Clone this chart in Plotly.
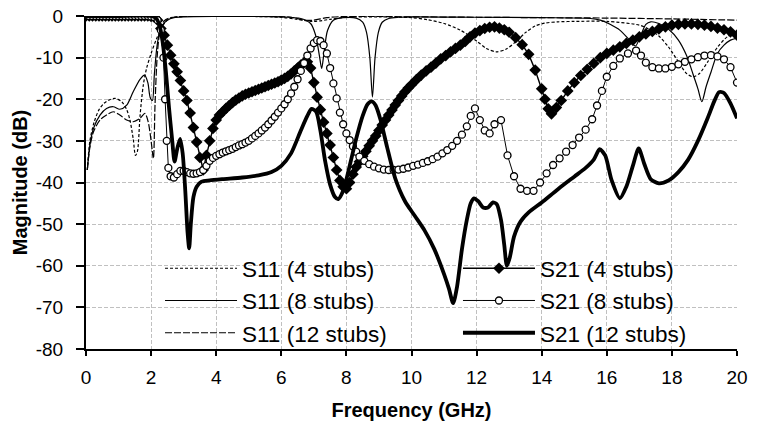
import plotly.graph_objects as go

# ---------------- data ----------------
s11_4_x = [0.04, 0.12, 0.25, 0.4, 0.55, 0.7, 0.9, 1.1, 1.25, 1.35, 1.45, 1.52, 1.58, 1.66, 1.76, 1.86, 2.0, 2.15, 2.3, 2.45, 2.6, 2.8, 3.5, 5, 6, 6.5, 7.0, 7.5, 8, 9, 10, 10.5, 11, 11.5, 12, 12.3, 12.6, 12.9, 13.2, 13.5, 13.8, 14.1, 14.5, 15, 16, 17, 17.3, 17.6, 17.9, 18.2, 18.45, 18.65, 18.85, 19.1, 19.4, 19.7, 20.0]
s11_4_y = [-37, -30, -25.5, -22.5, -21, -20.2, -19.8, -20.6, -22.5, -25, -29.5, -33.5, -32.5, -24, -16.6, -12.6, -9, -5.8, -3.2, -1.3, -0.5, -0.2, -0.1, -0.1, -0.3, -0.8, -1.3, -0.8, -0.3, -0.2, -0.4, -0.9, -1.8, -3.4, -6.0, -7.8, -8.6, -8.0, -6.2, -4.0, -2.4, -1.7, -1.4, -1.3, -1.3, -2.2, -3.2, -4.8, -7.5, -11, -13.8, -14.6, -13.8, -11, -7.5, -5, -3.8]

s11_8_x = [0.04, 0.12, 0.23, 0.43, 0.63, 0.84, 1.04, 1.25, 1.45, 1.66, 1.8, 1.9, 1.97, 2.04, 2.1, 2.17, 2.25, 2.35, 2.5, 2.7, 3, 4, 5, 6, 6.6, 6.9, 7.05, 7.17, 7.24, 7.31, 7.42, 7.6, 7.9, 8.3, 8.5, 8.62, 8.72, 8.8, 8.88, 8.98, 9.1, 9.3, 9.6, 10, 12, 14, 15.5, 15.8, 16.1, 16.4, 16.7, 16.88, 17.05, 17.2, 17.35, 17.6, 17.9, 18.2, 18.45, 18.65, 18.8, 18.92, 19.05, 19.2, 19.4, 19.6, 19.8, 20]
s11_8_y = [-37, -31, -27, -23.8, -22.2, -21.8, -22.4, -21.4, -18.2, -15.2, -14.2, -16, -19.5, -20.3, -14, -8, -4.2, -2.2, -1, -0.4, -0.2, -0.1, -0.1, -0.2, -0.6, -1.8, -4.5, -9.5, -12.6, -9, -3.5, -1, -0.4, -0.5, -1.5, -4, -10, -19.5, -10, -4, -1.5, -0.6, -0.3, -0.2, -0.3, -0.4, -0.6, -1.0, -2.0, -3.4, -5.8, -7.2, -4.5, -2.0, -1.4, -1.8, -3.2, -5.8, -9.5, -14.0, -17.5, -20.6, -17, -13.5, -9.0, -7.0, -5.8, -5.3]

s11_12_x = [0.04, 0.12, 0.23, 0.43, 0.63, 0.84, 1.04, 1.25, 1.45, 1.66, 1.81, 1.91, 2.0, 2.07, 2.12, 2.19, 2.27, 2.4, 2.6, 3, 5, 6.3, 6.7, 7.0, 7.4, 8, 10, 12, 14, 16, 18, 20]
s11_12_y = [-37, -31.5, -27.8, -25, -23.8, -23, -23.8, -25, -25.4, -24.6, -23.4, -25.4, -30, -34.2, -21.4, -9.4, -3.8, -1.2, -0.4, -0.1, -0.1, -0.3, -1, -1, -0.4, -0.1, -0.2, -0.3, -0.4, -0.5, -0.7, -1]

s21_4_x = [0.0, 0.1, 0.2, 0.3, 0.4, 0.5, 0.6, 0.7, 0.8, 0.9, 1.0, 1.1, 1.2, 1.3, 1.4, 1.5, 1.6, 1.7, 1.8, 1.9, 2.0, 2.1,
           2.2, 2.3, 2.4, 2.5, 2.6, 2.7, 2.8, 2.9, 3.0, 3.1, 3.2, 3.3, 3.4, 3.5, 3.6, 3.7, 3.8, 3.9,
           4.0, 4.1, 4.2, 4.3, 4.4, 4.5, 4.6, 4.7, 4.8, 4.9, 5.0, 5.1, 5.2, 5.3, 5.4, 5.5, 5.6, 5.7, 5.8, 5.9,
           6.0, 6.1, 6.2, 6.3, 6.4, 6.5, 6.6, 6.7, 6.8, 6.9, 7.0, 7.1, 7.2, 7.3, 7.4, 7.5, 7.6, 7.7, 7.8, 7.9,
           8.0, 8.1, 8.2, 8.3, 8.4, 8.5, 8.6, 8.7, 8.8, 8.9, 9.0, 9.1, 9.2, 9.3, 9.4, 9.5, 9.6, 9.7, 9.8, 9.9,
           10.0, 10.15, 10.3, 10.45, 10.6, 10.75, 10.9, 11.05, 11.2, 11.35, 11.5, 11.65, 11.8, 11.95, 12.1, 12.25, 12.4, 12.55, 12.7, 12.85,
           13.0, 13.2, 13.4, 13.6, 13.8, 14.0, 14.1, 14.2, 14.3, 14.45, 14.6, 14.8, 15.0, 15.2, 15.4, 15.6, 15.8,
           16.0, 16.2, 16.4, 16.6, 16.8, 17.0, 17.2, 17.4, 17.6, 17.8, 18.0, 18.2, 18.4, 18.6, 18.8, 19.0, 19.2, 19.4, 19.6, 19.8, 20.0]
s21_4_y = [0, 0, 0, 0, 0, 0, 0, 0, 0, 0, 0, 0, 0, 0, 0, 0, 0, 0, 0, 0, -0.1, -0.3,
           -1.0, -3.0, -4.6, -7.0, -9.4, -11.5, -13.4, -15.5, -18.0, -20.3, -23.3, -26.8, -30.3, -34.0, -37.0, -33.5, -30.0, -27.0,
           -25.0, -23.8, -23.0, -22.2, -21.5, -20.8, -20.2, -19.7, -19.2, -18.8, -18.5, -18.2, -17.9, -17.6, -17.3, -17.0, -16.7, -16.4, -16.1, -15.8,
           -15.4, -15.0, -14.5, -13.9, -13.2, -12.5, -11.8, -11.2, -11.0, -12.5, -16.0, -19.5, -22.5, -25.5, -28.2, -31.0, -34.0, -37.0, -39.5, -41.0,
           -41.5, -40.0, -38.0, -36.3, -35.0, -33.7, -32.5, -31.2, -30.0, -28.8, -27.5, -26.2, -25.0, -23.8, -22.6, -21.4, -20.3, -19.2, -18.2, -17.3,
           -16.5, -15.3, -14.2, -13.2, -12.3, -11.3, -10.3, -9.5, -8.6, -7.8, -7.0, -6.1, -5.0, -4.1, -3.5, -3.0, -2.7, -2.6, -2.9, -3.3,
           -3.9, -5.2, -6.9, -9.2, -13.0, -17.5, -20.0, -22.3, -23.5, -22.0, -20.3, -18.0, -16.0, -14.3, -12.8, -11.4, -10.0,
           -9.0, -8.2, -7.4, -6.6, -5.8, -5.0, -4.3, -3.7, -3.1, -2.6, -2.2, -2.0, -1.9, -1.9, -2.0, -2.2, -2.5, -2.9, -3.3, -3.8, -4.6]

s21_8_x = [0.0, 0.1, 0.2, 0.3, 0.4, 0.5, 0.6, 0.7, 0.8, 0.9, 1.0, 1.1, 1.2, 1.3, 1.4, 1.5, 1.6, 1.7, 1.8, 1.9, 2.0, 2.1,
           2.2, 2.3, 2.38, 2.43, 2.48, 2.53, 2.6, 2.7, 2.8, 2.9, 3.0, 3.1, 3.2, 3.3, 3.4, 3.5, 3.6, 3.7, 3.8, 3.9,
           4.0, 4.1, 4.2, 4.3, 4.4, 4.5, 4.6, 4.7, 4.8, 4.9, 5.0, 5.1, 5.2, 5.3, 5.4, 5.5, 5.6, 5.7, 5.8, 5.9,
           6.0, 6.1, 6.2, 6.3, 6.4, 6.5, 6.6, 6.7, 6.8, 6.9, 7.0, 7.1, 7.2, 7.3, 7.4, 7.5, 7.6, 7.7, 7.8, 7.9,
           8.0, 8.1, 8.2, 8.3, 8.4, 8.55, 8.7, 8.85, 9.0, 9.15, 9.3, 9.45, 9.6, 9.75, 9.9, 10.05, 10.2, 10.35, 10.5, 10.65, 10.8, 10.95, 11.1, 11.25, 11.4, 11.55, 11.7, 11.82, 11.95,
           12.1, 12.25, 12.4, 12.55, 12.75, 12.95, 13.15, 13.35, 13.55, 13.75, 13.95, 14.15, 14.35, 14.55, 14.75, 14.95, 15.15, 15.35, 15.55, 15.7, 15.85,
           16.0, 16.2, 16.4, 16.65, 16.9, 17.05, 17.2, 17.4, 17.6, 17.8, 18.0, 18.2, 18.4, 18.6, 18.8, 19.0, 19.2, 19.4, 19.6, 19.8, 20.0]
s21_8_y = [0, 0, 0, 0, 0, 0, 0, 0, 0, 0, 0, 0, 0, 0, 0, 0, 0, 0, 0, 0, -0.1, -0.3,
           -1.0, -3.4, -10.0, -20.0, -30.0, -36.5, -38.5, -38.8, -38.0, -37.2, -37.2, -37.5, -37.8, -37.9, -37.8, -37.5, -37.0, -36.0, -34.8, -34.1,
           -33.6, -33.2, -32.8, -32.5, -32.2, -31.9, -31.5, -31.1, -30.8, -30.4, -30.0, -29.4, -28.8, -28.2, -27.5, -26.8, -26.0, -25.1, -24.2, -23.2,
           -22.2, -21.2, -20.0, -18.6, -17.0, -15.2, -13.2, -11.3, -9.5, -7.8, -6.5, -5.8, -6.0, -7.0, -9.0, -12.5, -16.2, -19.8, -23.2, -26.0,
           -28.2, -29.8, -31.3, -32.6, -33.8, -34.8, -35.6, -36.2, -36.6, -36.9, -37.0, -37.0, -36.9, -36.7, -36.4, -36.0, -35.7, -35.3, -34.9, -34.4, -33.8, -33.0, -32.2, -31.2, -30.0, -28.5, -26.5, -24.0, -22.2,
           -25.0, -27.5, -28.2, -26.0, -25.0, -33.5, -38.5, -41.5, -42.0, -42.0, -40.0, -37.8, -35.8, -34.2, -32.6, -31.0, -29.2, -27.3, -24.8, -21.5, -18.0,
           -14.6, -12.0, -10.2, -9.0, -8.3, -9.5, -11.2, -12.3, -12.6, -12.6, -12.2, -11.6, -11.0, -10.4, -9.9, -9.5, -9.4, -9.7, -10.4, -12.3, -16.0]

s21_12_x = [0, 1, 2.0, 2.15, 2.25, 2.35, 2.45, 2.55, 2.65, 2.72, 2.8, 2.89, 2.97, 3.05, 3.12, 3.17, 3.22, 3.3, 3.4, 3.55, 3.8, 4.2, 4.8, 5.3, 5.7, 6.0, 6.3, 6.6, 6.8, 6.93, 7.07, 7.2, 7.35, 7.5, 7.65, 7.75, 7.9, 8.1, 8.3, 8.5, 8.65, 8.78, 8.9, 9.05, 9.25, 9.5, 9.8, 10.1, 10.4, 10.7, 11.0, 11.15, 11.28, 11.4, 11.55, 11.7, 11.82, 11.92, 12.05, 12.2, 12.35, 12.5, 12.62, 12.75, 12.85, 12.93, 13.02, 13.15, 13.35, 13.6, 14.0, 14.5, 15.0, 15.35, 15.6, 15.78, 15.95, 16.15, 16.4, 16.6, 16.8, 16.98, 17.15, 17.35, 17.6, 17.9, 18.2, 18.5, 18.8, 19.1, 19.3, 19.45, 19.6, 19.8, 20.0]
s21_12_y = [0, 0, 0, -0.5, -2, -6, -13, -22, -30, -35, -32, -29.5, -33, -42, -52, -55.8, -50, -43.5, -41, -39.8, -39.5, -39.2, -38.8, -38.3, -37.5, -36, -33, -27.5, -24, -22.3, -23, -27.5, -35, -40.5, -43.5, -44, -42, -36, -29.5, -24, -21.2, -20.5, -21.5, -25, -31.5, -39, -44.5, -48, -51.5, -56, -62, -65.5, -69, -65, -56, -49, -45, -43.8, -44.5, -46, -46, -44.8, -45.2, -49, -55, -60, -58, -53, -49.4, -47.2, -44.8, -41.6, -38.6, -36.5, -34.5, -32, -33.5, -39.5, -43.8, -41, -36, -31.8, -35.5, -39.2, -40.2, -39.5, -37.5, -34.5, -30, -24.5, -20.5, -18.3, -18.5, -21, -24.6]

x_ticks = [0, 2, 4, 6, 8, 10, 12, 14, 16, 18, 20]
y_ticks = [0, -10, -20, -30, -40, -50, -60, -70, -80]

FONT = "Liberation Sans, Arial, sans-serif"

fig = go.Figure()

fig.add_trace(go.Scatter(x=s11_4_x, y=s11_4_y, mode="lines", name="S11 (4 stubs)",
                         line=dict(color="black", width=1.2, dash="3px,2px", shape="spline", smoothing=0.8),
                         legend="legend"))
fig.add_trace(go.Scatter(x=s11_8_x, y=s11_8_y, mode="lines", name="S11 (8 stubs)",
                         line=dict(color="black", width=1.2, shape="spline", smoothing=0.8),
                         legend="legend"))
fig.add_trace(go.Scatter(x=s11_12_x, y=s11_12_y, mode="lines", name="S11 (12 stubs)",
                         line=dict(color="black", width=1.2, dash="7px,2px", shape="spline", smoothing=0.8),
                         legend="legend"))
fig.add_trace(go.Scatter(x=s21_4_x, y=s21_4_y, mode="lines+markers", name="S21 (4 stubs)",
                         line=dict(color="black", width=1.4),
                         marker=dict(symbol="diamond", size=9, color="black"),
                         legend="legend2"))
fig.add_trace(go.Scatter(x=s21_8_x, y=s21_8_y, mode="lines+markers", name="S21 (8 stubs)",
                         line=dict(color="black", width=1),
                         marker=dict(symbol="circle", size=7, color="white", line=dict(color="black", width=1.3)),
                         legend="legend2"))
fig.add_trace(go.Scatter(x=s21_12_x, y=s21_12_y, mode="lines", name="S21 (12 stubs)",
                         line=dict(color="black", width=3.8, shape="spline", smoothing=0.7),
                         legend="legend2"))

axis_common = dict(
    showline=True, linecolor="black", linewidth=2,
    showgrid=True, gridcolor="#c0c0c0", gridwidth=1, griddash="4px,2px",
    ticks="outside", tickcolor="black", tickwidth=2,
    zeroline=False, automargin=False,
    tickfont=dict(family=FONT, size=19, color="black"),
)

fig.update_layout(
    width=765, height=429,
    margin=dict(l=86, r=28, t=16, b=80),
    paper_bgcolor="white", plot_bgcolor="white",
    font=dict(family=FONT, color="black"),
    xaxis=dict(range=[0, 20], tickvals=x_ticks, ticktext=[str(v) for v in x_ticks],
               ticklen=5, ticklabelstandoff=5,
               title=dict(text="<b>Frequency (GHz)</b>", font=dict(family=FONT, size=20), standoff=16),
               **axis_common),
    yaxis=dict(range=[-80, 0], tickvals=y_ticks, ticktext=[str(v) for v in y_ticks],
               ticklen=8, ticklabelstandoff=9,
               title=dict(text="<b>Magnitude (dB)</b>", font=dict(family=FONT, size=20), standoff=3),
               **axis_common),
    legend=dict(x=0.1137, y=0.306, xanchor="left", yanchor="top", bgcolor="rgba(0,0,0,0)",
                font=dict(family=FONT, size=22.5), tracegroupgap=0, itemwidth=72),
    legend2=dict(x=0.5714, y=0.306, xanchor="left", yanchor="top", bgcolor="rgba(0,0,0,0)",
                 font=dict(family=FONT, size=22.5), tracegroupgap=0, itemwidth=72),
    showlegend=True,
)

fig.write_html("out.html")
